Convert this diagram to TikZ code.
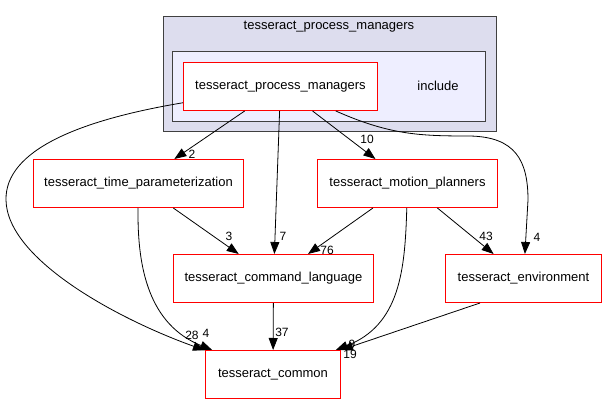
\documentclass[tikz,border=0pt]{standalone}
\usepackage{fontspec}
\setmainfont{Liberation Sans}
\usetikzlibrary{arrows.meta}
\definecolor{outerfill}{HTML}{DDDDEE}
\definecolor{innerfill}{HTML}{EEEEFF}
\definecolor{clusterline}{HTML}{404040}
\definecolor{boxred}{HTML}{FF0000}
\tikzset{
  dirbox/.style={draw=boxred, fill=white, line width=1pt, minimum height=48pt, inner sep=0pt},
  dep/.style={-{Triangle[length=12pt,width=9pt]}, line width=0.8pt},
  num/.style={font=\fontsize{12}{14}\selectfont, inner sep=0pt}
}
\begin{document}
\begin{tikzpicture}[x=1pt,y=-1pt,font=\fontsize{13}{15}\selectfont]
                    \useasboundingbox (0,0) rectangle (606,404);
                    \filldraw [fill=outerfill, draw=clusterline, line width=1pt] (163.5,16.5) rectangle (496.5,131.5);
                    \node (pmtitle) at (329,27) {tesseract\_process\_managers};
                    \filldraw [fill=innerfill, draw=clusterline, line width=1pt] (172.5,51.5) rectangle (485.5,121.5);
                    \node (inc) at (438,86) {include};
                    \node [dirbox, minimum width=194pt] (tpm) at (280.5,86.5) {tesseract\_process\_managers};
                    \node [dirbox, minimum width=210pt] (ttp) at (138.5,183.5) {tesseract\_time\_parameterization};
                    \node [dirbox, minimum width=180pt] (tmp) at (407.5,183.5) {tesseract\_motion\_planners};
                    \node [dirbox, minimum width=200pt] (tcl) at (273.5,278.5) {tesseract\_command\_language};
                    \node [dirbox, minimum width=156pt] (tenv) at (523.5,278.5) {tesseract\_environment};
                    \node [dirbox, minimum width=135pt] (tc) at (273,374.5) {tesseract\_common};
                    \draw [dep] (tpm) -- (ttp);
                    \draw [dep] (tpm) -- (tcl);
                    \draw [dep] (tpm) -- (tmp);
                    \draw [dep] (tpm) .. controls (390,135) and (420,136) .. (470,136) .. controls (515,137) and (528,160) .. (528,200) -- (tenv);
                    \draw [dep] (tpm) .. controls (80,120) and (5,150) .. (6,200) .. controls (7,260) and (120,320) .. (tc);
                    \draw [dep] (ttp) -- (tcl);
                    \draw [dep] (ttp) .. controls (137,270) and (150,325) .. (tc);
                    \draw [dep] (tmp) -- (tcl);
                    \draw [dep] (tmp) .. controls (405,270) and (400,325) .. (tc);
                    \draw [dep] (tmp) -- (tenv);
                    \draw [dep] (tcl) -- (tc);
                    \draw [dep] ([xshift=35pt]tenv.south west) -- (tc.north east);
                    \node [num] (n2) at (192,154) {2};
                    \node [num] (n7) at (283,236) {7};
                    \node [num] (n10) at (367,139) {10};
                    \node [num] (n4a) at (537,237) {4};
                    \node [num] (n28) at (192,335) {28};
                    \node [num] (n3) at (229,236) {3};
                    \node [num] (n4b) at (206,333) {4};
                    \node [num] (n76) at (327,250) {76};
                    \node [num] (n9) at (352,344) {9};
                    \node [num] (n43) at (486,236) {43};
                    \node [num] (n37) at (282,332) {37};
                    \node [num] (n19) at (350,354) {19};
                \end{tikzpicture}
\end{document}
